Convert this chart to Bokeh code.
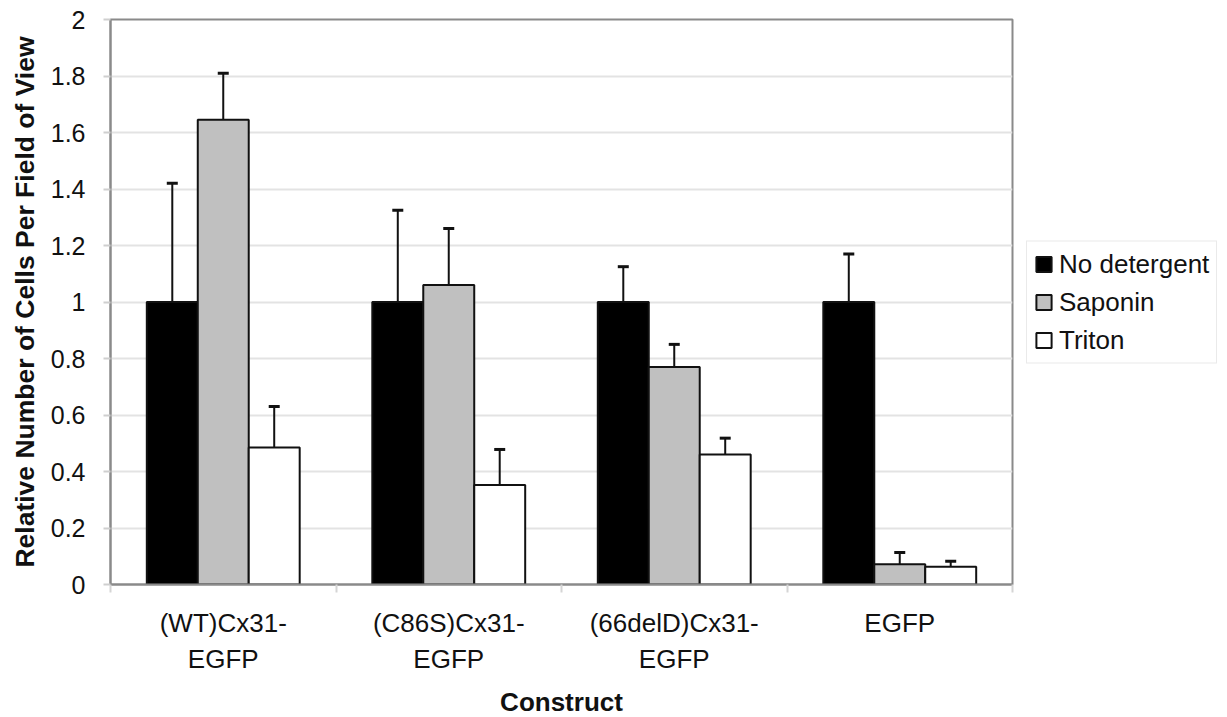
import numpy as np
from bokeh.plotting import figure
from bokeh.models import (ColumnDataSource, Range1d, FixedTicker, Whisker, TeeHead,
                          Legend, LegendItem, CustomJSTickFormatter)
from bokeh.embed import file_html
from bokeh.resources import INLINE

# ---- data ----
categories = ["(WT)Cx31-\nEGFP", "(C86S)Cx31-\nEGFP", "(66delD)Cx31-\nEGFP", "EGFP"]
series_names = ["No detergent", "Saponin", "Triton"]
no_detergent = [1.0, 1.0, 1.0, 1.0]
no_detergent_err = [0.42, 0.325, 0.125, 0.17]
saponin = [1.645, 1.06, 0.77, 0.072]
saponin_err = [0.165, 0.20, 0.08, 0.041]
triton = [0.485, 0.352, 0.46, 0.063]
triton_err = [0.145, 0.126, 0.058, 0.019]
y_ticks = [0, 0.2, 0.4, 0.6, 0.8, 1.0, 1.2, 1.4, 1.6, 1.8, 2.0]

values = [no_detergent, saponin, triton]
errors = [no_detergent_err, saponin_err, triton_err]
fills = ["#000000", "#c0c0c0", "#ffffff"]

FONT = "Liberation Sans"
n = len(categories)
centers = np.arange(n) + 0.5
bar_w = 0.226
offsets = [-bar_w, 0.0, bar_w]

p = figure(frame_width=902, frame_height=565, x_range=Range1d(0, n), y_range=Range1d(0, 2),
           output_backend="svg", toolbar_location=None,
           min_border_left=110, min_border_right=215, min_border_top=19, min_border_bottom=133)

p.background_fill_color = "white"
p.border_fill_color = "white"
p.outline_line_color = "#8a8a8a"
p.outline_line_width = 2

items = []
for name, vals, errs, fc, off in zip(series_names, values, errors, fills, offsets):
    x = centers + off
    top = np.array(vals)
    up = top + np.array(errs)
    src = ColumnDataSource(dict(x=x, top=top, up=up))
    w = Whisker(source=src, base="x", lower="top", upper="up",
                line_color="#111111", line_width=2,
                lower_head=None,
                upper_head=TeeHead(size=11, line_color="#111111", line_width=3))
    p.add_layout(w)
    r = p.vbar(x="x", top="top", width=bar_w, bottom=0, source=src,
               fill_color=fc, line_color="#111111", line_width=2)
    items.append(LegendItem(label=name, renderers=[r]))

# grid
p.xgrid.visible = False
p.ygrid.ticker = FixedTicker(ticks=y_ticks)
p.ygrid.grid_line_color = "#e3e3e3"
p.ygrid.grid_line_width = 2

# y axis
p.yaxis.ticker = FixedTicker(ticks=y_ticks)
p.yaxis.formatter = CustomJSTickFormatter(code="return String(Math.round(tick*10)/10)")
p.yaxis.axis_line_color = "#8a8a8a"
p.yaxis.axis_line_width = 2
p.yaxis.major_tick_line_color = "#cfcfcf"
p.yaxis.major_tick_line_width = 2
p.yaxis.major_tick_out = 7
p.yaxis.major_tick_in = 0
p.yaxis.minor_tick_line_color = None
p.yaxis.major_label_text_font = FONT
p.yaxis.major_label_text_font_size = "25px"
p.yaxis.major_label_text_color = "#111111"
p.yaxis.major_label_standoff = 18
p.yaxis.axis_label = "Relative Number of Cells Per Field of View"
p.yaxis.axis_label_text_font = FONT
p.yaxis.axis_label_text_font_size = "26.5px"
p.yaxis.axis_label_text_font_style = "bold"
p.yaxis.axis_label_text_color = "#111111"
p.yaxis.axis_label_standoff = 8

# x axis
p.xaxis.ticker = FixedTicker(ticks=list(centers), minor_ticks=list(np.arange(0, n + 1)))
p.xaxis.major_label_overrides = {float(c): lab for c, lab in zip(centers, categories)}
p.xaxis.axis_line_color = "#8a8a8a"
p.xaxis.axis_line_width = 2
p.xaxis.major_tick_line_color = None
p.xaxis.major_tick_out = 0
p.xaxis.major_tick_in = 0
p.xaxis.minor_tick_line_color = "#d5d5d5"
p.xaxis.minor_tick_line_width = 2
p.xaxis.minor_tick_out = 8
p.xaxis.minor_tick_in = 0
p.xaxis.major_label_text_font = FONT
p.xaxis.major_label_text_font_size = "26px"
p.xaxis.major_label_text_color = "#111111"
p.xaxis.major_label_standoff = 15
p.xaxis.axis_label = "Construct"
p.xaxis.axis_label_text_font = FONT
p.xaxis.axis_label_text_font_size = "26px"
p.xaxis.axis_label_text_font_style = "bold"
p.xaxis.axis_label_text_color = "#111111"
p.xaxis.axis_label_standoff = 10

legend = Legend(items=items, location="center_left",
                label_text_font=FONT, label_text_font_size="26px", label_text_color="#111111",
                glyph_width=19, glyph_height=19, label_height=30, label_standoff=6,
                spacing=7, padding=7, margin=14,
                border_line_color="#d6d6d6", border_line_width=1,
                background_fill_color="white", background_fill_alpha=1.0)
p.add_layout(legend, "right")

open("out.html", "w").write(file_html(p, INLINE))
